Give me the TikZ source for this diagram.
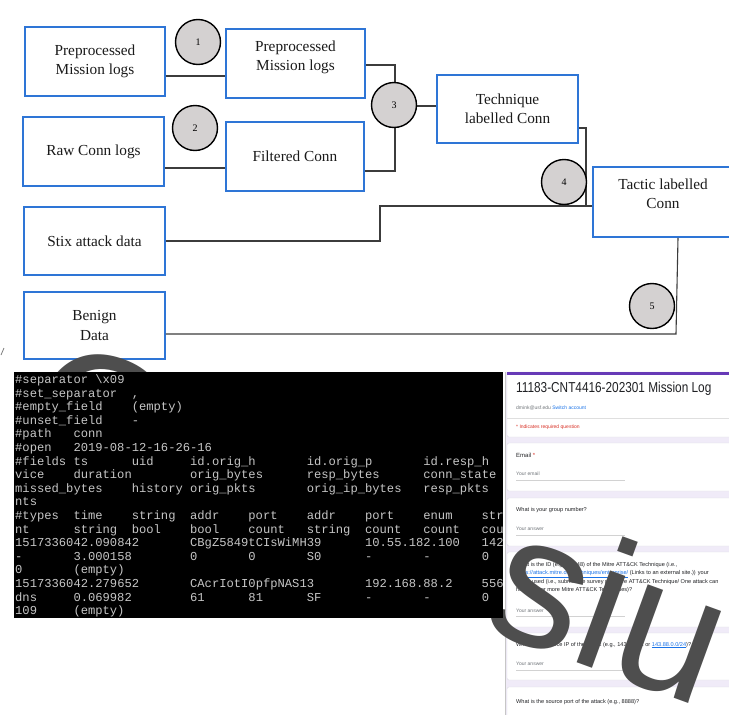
\documentclass[tikz,border=0pt]{standalone}
\usepackage{fontspec}
\setmainfont{Liberation Serif}
\newfontfamily\monof{Liberation Mono}
\newfontfamily\sansf{Liberation Sans}
\usepackage{graphicx}
\newlength\tabw
\setlength\tabw{58.32pt}
\newcommand\tb[2][1]{\makebox[#1\tabw][l]{#2}}
\definecolor{boxblue}{RGB}{46,117,214}
\definecolor{boxtext}{RGB}{26,26,26}
\definecolor{circfill}{RGB}{212,209,209}
\definecolor{lineg}{RGB}{60,60,60}
\definecolor{termtxt}{RGB}{198,198,198}
\definecolor{formbg}{RGB}{240,235,248}
\definecolor{formpurple}{RGB}{103,58,183}
\definecolor{cardline}{RGB}{222,220,228}
\definecolor{gtext}{RGB}{32,33,36}
\definecolor{gsub}{RGB}{112,117,122}
\definecolor{glink}{RGB}{26,115,232}
\definecolor{gred}{RGB}{217,48,37}
\definecolor{wmark}{RGB}{78,78,78}
\tikzset{
  fbox/.style={draw=boxblue, line width=1.8pt, fill=white, align=center, text=boxtext,
    font=\fontsize{15.3}{19.2}\selectfont, inner sep=0pt},
  numc/.style={circle, draw=black, line width=1.4pt, fill=circfill, minimum size=45pt,
    inner sep=0pt, font=\fontsize{10}{12}\selectfont},
  conn/.style={draw=lineg, line width=1.1pt},
  term/.style={anchor=base west, inner sep=0pt, text=termtxt, font=\monof\fontsize{12.15}{13.6}\selectfont},
  card/.style={fill=white, draw=cardline, line width=0.4pt, rounded corners=2pt},
  ftxt/.style={anchor=west, inner sep=0pt, text=gtext, font=\sansf\fontsize{5.6}{8.4}\selectfont},
  fsub/.style={ftxt, text=gsub, font=\sansf\fontsize{5}{6}\selectfont},
  uline/.style={draw=gray!35, line width=0.5pt},
  wm/.style={text=wmark, rotate=-20, anchor=base west, inner sep=0pt, font=\sansf\fontsize{185}{185}\selectfont}
}
\begin{document}
\begin{tikzpicture}[x=1pt,y=-1pt]
\useasboundingbox (0,0) rectangle (729,715);
\fill[white] (0,0) rectangle (729,715);

% ---------- flowchart boxes ----------
\node[fbox, minimum width=140pt, minimum height=69pt] (A) at (95,61.5) {Preprocessed\\Mission logs};
\node[fbox, minimum width=139pt, minimum height=69pt] (B) at (295.5,63.5) {Preprocessed\\Mission logs\rule[-15pt]{0pt}{0pt}};
\node[fbox, minimum width=141pt, minimum height=69pt] (C) at (93.5,151.5) {Raw Conn logs};
\node[fbox, minimum width=138pt, minimum height=69pt] (D) at (295,156.5) {Filtered Conn};
\node[fbox, minimum width=141pt, minimum height=68pt] (E) at (507.5,109) {Technique\\labelled Conn};
\node[fbox, minimum width=140pt, minimum height=70pt] (F) at (663,202) {Tactic labelled\\Conn\rule[-17pt]{0pt}{0pt}};
\node[fbox, minimum width=141pt, minimum height=68pt] (S) at (94.5,241) {Stix attack data};
\node[fbox, minimum width=141pt, minimum height=67pt] (G) at (94.5,325.5) {Benign\\Data};

% ---------- connectors ----------
\coordinate (j4) at (586,206);
\coordinate (k1) at (380,206);
\coordinate (k5) at (676,334);
\draw[conn] (A.east |- 0,76) -- (B.west |- 0,76);
\draw[conn] (C.east |- 0,168) -- (D.west |- 0,168);
\draw[conn] (B.east |- 0,65) -| (395,90);
\draw[conn] (D.east |- 0,171) -| (395,120);
\draw[conn] (395,106) -- (E.west |- 0,106);
\draw[conn] (E.east |- 0,128) -| (j4);
\draw[conn] (S.east) -| (k1) -- (F.west |- k1);
\draw[conn] (G.east |- k5) -- (k5) -- ([xshift=15pt]F.south);

% ---------- numbered circles ----------
\node[numc] (c1) at (198,42) {1};
\node[numc] (c2) at (195,128) {2};
\node[numc] (c3) at (394,105) {3};
\node[numc] (c4) at (564,182) {4};
\node[numc] (c5) at (652,306) {5};

% ---------- form screenshot ----------
\fill[formbg] (505,372) rectangle (729,715);
\draw[gray!45, line width=0.6pt] (505.3,372) -- (505.3,715);
\path[card] (507,372) rectangle (745,437);
\fill[formpurple] (507,371.5) rectangle (745,375);
\path[card] (507,443) rectangle (745,491);
\path[card] (507,498) rectangle (745,546);
\path[card] (507,552) rectangle (745,627);
\path[card] (507,633) rectangle (745,680);
\path[card] (507,687) rectangle (745,730);
\draw[gray!25, line width=0.5pt] (507,418) -- (729,418);

\node[anchor=west, inner sep=0pt, text=gtext] (ftitle) at (516,389)
  {\sansf\scalebox{0.82}[1]{\fontsize{14.4}{16}\selectfont 11183-CNT4416-202301 Mission Log}};
\node[fsub, text=gsub] (facc) at (516,408) {dmink@usf.edu {\color{glink}Switch account}};
\node[fsub, text=gred] (freq) at (516,427) {* Indicates required question};
\node[ftxt, font=\sansf\fontsize{6}{7}\selectfont] (femail) at (516,455) {Email {\color{gred}*}};
\node[fsub] (fyemail) at (516,474) {Your email};
\draw[uline] (516,480) -- (625,480);
\node[ftxt] (fgroup) at (516,510) {What is your group number?};
\node[fsub] (fyans1) at (516,529) {Your answer};
\draw[uline] (516,535) -- (625,535);
\node[ftxt, align=left, anchor=north west] (fid) at (516,562)
  {What is the ID (e.g., T1548) of the Mitre ATT\&CK Technique (i.e.,\\
   {\color{glink}\underline{https://attack.mitre.org/techniques/enterprise/}} (Links to an external site.)) your\\
   group used (i.e., submit one survey per Mitre ATT\&CK Technique/ One attack can\\
   have one or more Mitre ATT\&CK Techniques)?};
\node[fsub] (fyans2) at (516,611) {Your answer};
\draw[uline] (516,616) -- (625,616);
\node[ftxt] (fip) at (516,645) {What is the source IP of the attack  (e.g., 143.88.0.1 or {\color{glink}\underline{143.88.0.0/24}})?};
\node[fsub] (fyans3) at (516,664) {Your answer};
\draw[uline] (516,670) -- (625,670);
\node[ftxt] (fport) at (516,702) {What is the source port of the attack  (e.g., 8888)?};

% ---------- watermark ----------
\node[wm] (wmO) at (12,456) {O};
\node[wm] (wmS) at (478,627) {siu};
\draw[gray, line width=0.8pt] (1,355) -- (4,348);

% ---------- terminal screenshot ----------
\fill[black] (14,372) rectangle (503,618);
\begin{scope}
\clip (14,372) rectangle (503,618);
\node[term] (t1)  at (15,383.5) {\#separator \textbackslash x09};
\node[term] (t2)  at (15,397.1) {\tb[2]{\#set\_separator},};
\node[term] (t3)  at (15,410.7) {\tb[2]{\#empty\_field}(empty)};
\node[term] (t4)  at (15,424.3) {\tb[2]{\#unset\_field}-};
\node[term] (t5)  at (15,437.9) {\tb{\#path}conn};
\node[term] (t6)  at (15,451.5) {\tb{\#open}2019-08-12-16-26-16};
\node[term] (t7)  at (15,465.1) {\tb{\#fields}\tb{ts}\tb{uid}\tb[2]{id.orig\_h}\tb[2]{id.orig\_p}id.resp\_h};
\node[term] (t8)  at (15,478.7) {\tb{vice}\tb[2]{duration}\tb[2]{orig\_bytes}\tb[2]{resp\_bytes}conn\_state};
\node[term] (t9)  at (15,492.3) {\tb[2]{missed\_bytes}\tb{history}\tb[2]{orig\_pkts}\tb[2]{orig\_ip\_bytes}resp\_pkts};
\node[term] (t10) at (15,505.9) {nts};
\node[term] (t11) at (15,519.5) {\tb{\#types}\tb{time}\tb{string}\tb{addr}\tb{port}\tb{addr}\tb{port}\tb{enum}str};
\node[term] (t12) at (15,533.1) {\tb{nt}\tb{string}\tb{bool}\tb{bool}\tb{count}\tb{string}\tb{count}\tb{count}cou};
\node[term] (t13) at (15,546.7) {\tb[3]{1517336042.090842}\tb[3]{CBgZ5849tCIsWiMH39}\tb[2]{10.55.182.100}142};
\node[term] (t14) at (15,560.3) {\tb{-}\tb[2]{3.000158}\tb{0}\tb{0}\tb{S0}\tb{-}\tb{-}0};
\node[term] (t15) at (15,573.9) {\tb{0}(empty)};
\node[term] (t16) at (15,587.5) {\tb[3]{1517336042.279652}\tb[3]{CAcrIotI0pfpNAS13}\tb[2]{192.168.88.2}556};
\node[term] (t17) at (15,601.1) {\tb{dns}\tb[2]{0.069982}\tb{61}\tb{81}\tb{SF}\tb{-}\tb{-}0};
\node[term] (t18) at (15,614.7) {\tb{109}(empty)};
\end{scope}
\end{tikzpicture}
\end{document}
